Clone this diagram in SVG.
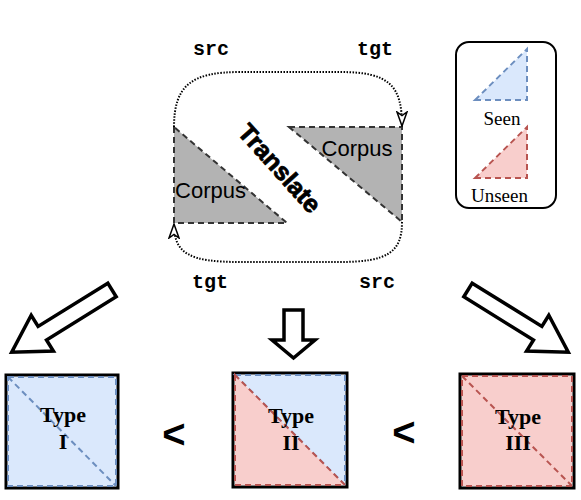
<svg xmlns="http://www.w3.org/2000/svg" width="581" height="500" viewBox="0 0 581 500">
<style>
.corpus{fill:#b3b3b3;stroke:#333;stroke-width:2;stroke-dasharray:6 4}
.seen{fill:#dae8fc;stroke:#6c8ebf;stroke-width:2;stroke-dasharray:6 4}
.unseen{fill:#f8cecc;stroke:#b85450;stroke-width:2;stroke-dasharray:6 4}
.frame{fill:none;stroke:#000;stroke-width:3}
.dot{fill:none;stroke:#000;stroke-width:2;stroke-dasharray:1.5 1.5}
.blk{fill:#fff;stroke:#000;stroke-width:3.5;stroke-linejoin:miter}
.mono{font-family:"Liberation Mono","Courier New",monospace;font-weight:bold;font-size:20px;text-anchor:middle}
.sans{font-family:"Liberation Sans",Arial,sans-serif;font-size:22px;text-anchor:middle}
.serif{font-family:"Liberation Serif","Times New Roman",serif;font-size:19px;text-anchor:middle}
.type{font-family:"Liberation Serif","Times New Roman",serif;font-size:22px;font-weight:bold;text-anchor:middle}
.lt{font-family:"Liberation Sans",Arial,sans-serif;font-size:40px;font-weight:bold;text-anchor:middle}
</style>
<defs>
<marker id="open" viewBox="0 0 16 12" refX="15" refY="6" markerWidth="16" markerHeight="12" markerUnits="userSpaceOnUse" orient="auto">
<path d="M1,1 L15,6 L1,11 L4.5,6 Z" fill="#fff" stroke="#000" stroke-width="1.5"/>
</marker>
</defs>

<g id="corpus-src">
<polygon class="corpus" points="174,127 174,223 287,223"/>
<text class="sans" x="210.5" y="198">Corpus</text>
</g>
<g id="corpus-tgt">
<polygon class="corpus" points="289,127 402,127 402,222"/>
<text class="sans" x="357" y="156">Corpus</text>
</g>
<g id="translate">
<text transform="translate(280,168) rotate(48)" x="0" y="9" font-family="'Liberation Sans',Arial,sans-serif" font-weight="bold" font-size="25" stroke="#000" stroke-width="0.8" text-anchor="middle">Translate</text>
</g>

<g id="labels">
<text class="mono" x="211" y="55">src</text>
<text class="mono" x="375" y="55">tgt</text>
<text class="mono" x="210" y="288">tgt</text>
<text class="mono" x="377" y="288">src</text>
</g>

<g id="legend">
<rect x="456" y="42" width="100" height="166" rx="13" fill="#fff" stroke="#000" stroke-width="2"/>
<polygon class="seen" points="475,100 527,100 527,49"/>
<text class="serif" x="502" y="125">Seen</text>
<polygon class="unseen" points="475,178 527,178 527,127"/>
<text class="serif" x="499.5" y="202">Unseen</text>
</g>

<g id="connectors">
<path class="dot" d="M174,127 C174,85 192,72 240,72 L340,72 C390,72 402,86 402,126" marker-end="url(#open)"/>
<path class="dot" d="M402,222 C402,252 388,262 340,262 L240,262 C190,262 174,254 174,224" marker-end="url(#open)"/>
<polygon class="blk" points="107.8,283.2 38.1,326.4 31.2,315.3 11.7,352.2 53.4,351.1 46.5,340 116.2,296.8"/>
<polygon class="blk" points="284,310 303,310 303,340 315,340 293.5,358 272,340 284,340"/>
<polygon class="blk" points="472.2,283.2 541.9,326.4 548.8,315.3 568.3,352.2 526.6,351.1 533.5,340 463.8,296.8"/>
</g>

<g id="type1">
<rect class="frame" x="6" y="375" width="112" height="113"/>
<rect class="seen" x="8" y="377" width="108" height="109"/>
<line x1="8" y1="377" x2="116" y2="486" stroke="#6c8ebf" stroke-width="2" stroke-dasharray="6 4"/>
<text class="type" x="63" y="422">Type</text>
<text class="type" x="63" y="449">I</text>
</g>

<text class="lt" x="174" y="448">&lt;</text>

<g id="type2">
<rect class="frame" x="233" y="373" width="114" height="114"/>
<polygon class="seen" points="235,375 345,375 345,485"/>
<polygon class="unseen" points="235,375 235,485 345,485"/>
<text class="type" x="291" y="423">Type</text>
<text class="type" x="291" y="450">II</text>
</g>

<text class="lt" x="404" y="446">&lt;</text>

<g id="type3">
<rect class="frame" x="460" y="374" width="114" height="114"/>
<rect class="unseen" x="462" y="376" width="110" height="110"/>
<line x1="462" y1="376" x2="572" y2="486" stroke="#b85450" stroke-width="2" stroke-dasharray="6 4"/>
<text class="type" x="518" y="424">Type</text>
<text class="type" x="518" y="450">III</text>
</g>
</svg>
